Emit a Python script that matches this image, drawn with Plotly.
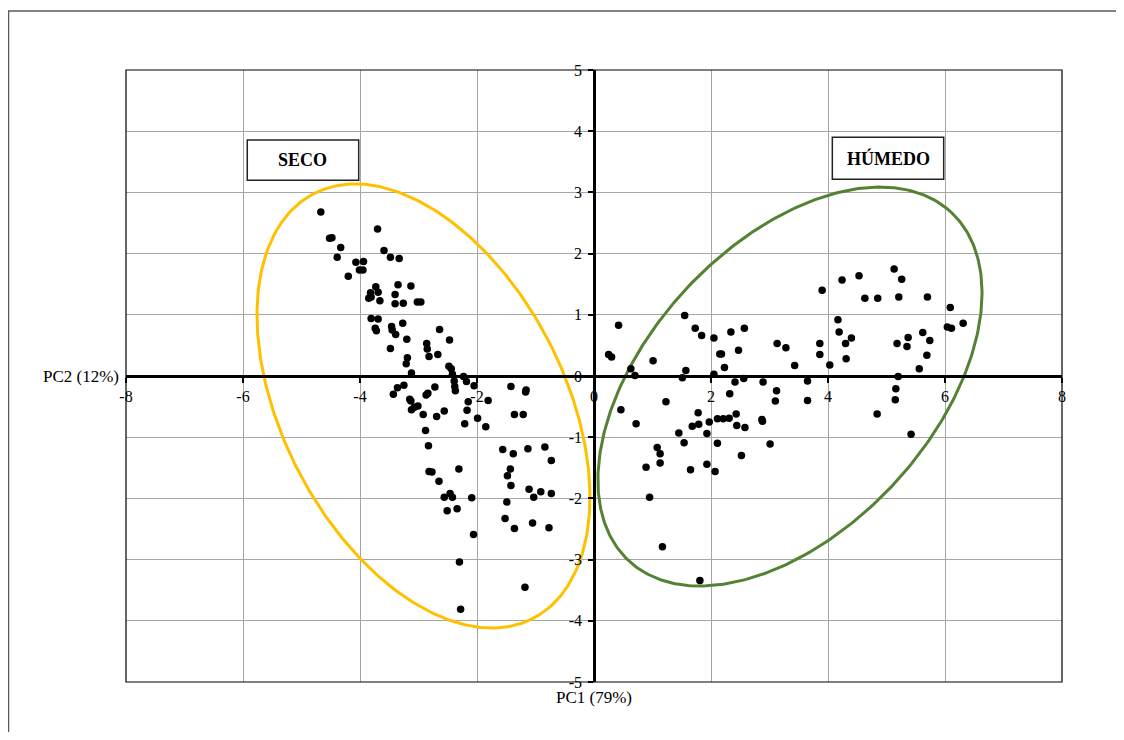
import numpy as np
import plotly.graph_objects as go

# ---------------- data ----------------
seco_x = [-4.67, -4.52, -4.48, -4.33, -4.39, -3.70, -4.07, -3.94, -4.01, -3.95,
          -4.20, -3.59, -3.48, -3.33, -3.35, -3.13, -3.73, -3.82, -3.69, -3.85,
          -3.81, -3.66, -3.40, -3.40, -3.26, -3.02, -2.96, -3.81, -3.69, -3.74,
          -3.72, -3.46, -3.45, -3.39, -3.27, -3.20, -3.48, -2.86, -2.85, -2.82,
          -2.67, -2.64, -2.47, -3.19, -3.21, -3.12, -2.48, -2.44, -2.42, -2.39,
          -2.38, -2.37, -2.23, -2.18, -2.05, -1.81, -2.15, -2.17, -2.72, -2.84,
          -2.87, -2.56, -2.69, -1.99, -2.21, -1.85, -3.43, -3.36, -3.25, -3.15,
          -3.13, -3.12, -3.07, -3.01, -2.92, -2.88, -2.83, -2.82, -2.77, -2.65,
          -2.31, -2.56, -2.46, -2.42, -2.51, -2.34, -2.09, -2.06, -2.30, -2.28,
          -1.42, -1.17, -1.16, -1.36, -1.21, -1.56, -1.38, -1.13, -0.84, -0.73,
          -1.43, -1.48, -1.42, -1.11, -1.03, -0.91, -0.73, -1.49, -1.52, -1.36,
          -1.05, -0.77, -1.18]
seco_y = [2.68, 2.25, 2.26, 2.10, 1.94, 2.40, 1.86, 1.87, 1.73, 1.73,
          1.63, 2.05, 1.94, 1.92, 1.49, 1.47, 1.46, 1.36, 1.37, 1.27,
          1.29, 1.23, 1.33, 1.18, 1.19, 1.21, 1.21, 0.94, 0.93, 0.78,
          0.74, 0.81, 0.75, 0.68, 0.86, 0.60, 0.45, 0.53, 0.44, 0.32,
          0.35, 0.76, 0.59, 0.30, 0.20, 0.05, 0.16, 0.12, 0.03, -0.08,
          -0.17, -0.24, -0.01, -0.09, -0.16, -0.40, -0.42, -0.56, -0.18, -0.28,
          -0.31, -0.57, -0.66, -0.69, -0.78, -0.83, -0.30, -0.19, -0.15, -0.38,
          -0.41, -0.55, -0.51, -0.49, -0.63, -0.89, -1.14, -1.56, -1.57, -1.72,
          -1.52, -1.98, -1.92, -1.98, -2.20, -2.17, -1.99, -2.59, -3.04, -3.81,
          -0.17, -0.26, -0.23, -0.63, -0.63, -1.20, -1.27, -1.19, -1.16, -1.38,
          -1.52, -1.63, -1.79, -1.85, -1.98, -1.89, -1.92, -2.06, -2.33, -2.49,
          -2.40, -2.48, -3.45]

humedo_x = [0.42, 0.25, 0.30, 0.63, 0.70, 1.01, 0.46, 0.72, 1.23, 1.55,
            1.57, 1.51, 1.73, 1.84, 2.05, 2.05, 2.15, 2.18, 2.23, 2.34,
            2.57, 2.47, 2.41, 2.56, 2.32, 1.78, 1.68, 1.79, 1.97, 2.11,
            2.21, 2.31, 2.43, 2.44, 2.58, 1.45, 1.93, 1.54, 2.11, 1.08,
            1.13, 1.13, 0.89, 1.65, 1.93, 2.07, 2.52, 0.95, 1.17, 1.81,
            2.89, 2.87, 2.88, 3.01, 3.10, 3.12, 3.13, 3.28, 3.43, 3.65,
            3.65, 3.86, 3.86, 3.90, 4.03, 4.17, 4.19, 4.30, 4.40, 4.31,
            4.24, 4.53, 4.63, 4.85, 4.84, 5.13, 5.26, 5.21, 5.18, 5.20,
            5.16, 5.15, 5.37, 5.35, 5.42, 5.56, 5.62, 5.74, 5.69, 5.70,
            6.09, 6.04, 6.11, 6.31]
humedo_y = [0.83, 0.35, 0.31, 0.12, 0.01, 0.25, -0.55, -0.78, -0.42, 0.99,
            0.09, -0.03, 0.78, 0.66, 0.62, 0.03, 0.36, 0.36, 0.14, 0.72,
            0.78, 0.42, -0.10, -0.04, -0.29, -0.60, -0.82, -0.79, -0.75, -0.70,
            -0.70, -0.69, -0.62, -0.81, -0.84, -0.93, -0.94, -1.09, -1.10, -1.17,
            -1.27, -1.42, -1.49, -1.53, -1.44, -1.56, -1.30, -1.98, -2.79, -3.34,
            -0.10, -0.71, -0.74, -1.11, -0.41, -0.24, 0.53, 0.46, 0.17, -0.08,
            -0.40, 0.53, 0.35, 1.40, 0.18, 0.92, 0.72, 0.53, 0.62, 0.28,
            1.57, 1.64, 1.27, 1.27, -0.62, 1.75, 1.58, 1.29, 0.53, -0.01,
            -0.21, -0.39, 0.63, 0.48, -0.95, 0.12, 0.71, 0.58, 0.34, 1.29,
            1.12, 0.80, 0.78, 0.86]

x_ticks = [-8, -6, -4, -2, 0, 2, 4, 6, 8]
y_ticks = [-5, -4, -3, -2, -1, 0, 1, 2, 3, 4, 5]
x_title = "PC1 (79%)"
y_title = "PC2 (12%)"
group_labels = ["SECO", "HÚMEDO"]

# ---------------- layout constants ----------------
# the page places the figure 8 px in from the top-left corner
W, H = 1108, 724
ML, MR, MT, MB = 118, 54, 62, 50
XR, YR = (-8, 8), (-5, 5)
PW, PH = W - ML - MR, H - MT - MB
sx = PW / (XR[1] - XR[0])   # px per x unit
sy = PH / (YR[1] - YR[0])   # px per y unit
FONT = "Liberation Serif"


def ellipse(cx, cy, a_px, b_px, ang_deg, n=400):
    t = np.linspace(0, 2 * np.pi, n)
    th = np.radians(ang_deg)
    dxp = a_px * np.cos(th) * np.cos(t) - b_px * np.sin(th) * np.sin(t)
    dyp = a_px * np.sin(th) * np.cos(t) + b_px * np.cos(th) * np.sin(t)
    return cx + dxp / sx, cy - dyp / sy


fig = go.Figure()

ex, ey = ellipse(-2.915, -0.49, 239, 141, 62.7)
fig.add_trace(go.Scatter(x=ex, y=ey, mode="lines", line=dict(color="#FFC000", width=3),
                         hoverinfo="skip", showlegend=False))
ex, ey = ellipse(3.35, -0.172, 237.4, 142.5, -47.3)
fig.add_trace(go.Scatter(x=ex, y=ey, mode="lines", line=dict(color="#548235", width=3),
                         hoverinfo="skip", showlegend=False))

fig.add_trace(go.Scatter(x=seco_x, y=seco_y, mode="markers",
                         marker=dict(color="black", size=7.5), showlegend=False, name="SECO"))
fig.add_trace(go.Scatter(x=humedo_x, y=humedo_y, mode="markers",
                         marker=dict(color="black", size=7.5), showlegend=False, name="HÚMEDO"))

axis_common = dict(showgrid=True, gridcolor="#A6A6A6", gridwidth=1, zeroline=False,
                   showline=True, linecolor="black", linewidth=2.5,
                   ticks="outside", ticklen=5, tickwidth=2, tickcolor="black",
                   tickfont=dict(family=FONT, size=16, color="black"),
                   anchor="free", position=0.5, fixedrange=True)

fig.update_layout(
    width=W, height=H,
    margin=dict(l=ML, r=MR, t=MT, b=MB),
    paper_bgcolor="white", plot_bgcolor="white",
    xaxis=dict(range=list(XR), tickvals=x_ticks, ticktext=[str(v) for v in x_ticks], **axis_common),
    yaxis=dict(range=list(YR), tickvals=y_ticks, ticktext=[str(v) for v in y_ticks],
               ticklabelstandoff=3, **axis_common),
    font=dict(family=FONT, color="black"),
)

# plot-area frame and outer chart frame
fig.add_shape(type="rect", xref="paper", yref="paper", x0=0, y0=0, x1=1, y1=1,
              line=dict(color="black", width=1.2), layer="above")
fig.add_shape(type="rect", xref="paper", yref="paper",
              x0=(0.5 - ML) / PW, y0=-0.3, x1=1.3, y1=(MT + PH - 3) / PH,
              line=dict(color="#595959", width=1.5), layer="above")

# group label boxes
boxes = [(-5.927, 3.198, -4.022, 3.856), (4.074, 3.214, 5.978, 3.900)]
for (x0, y0, x1, y1), lab in zip(boxes, group_labels):
    fig.add_shape(type="rect", x0=x0, y0=y0, x1=x1, y1=y1, xref="x", yref="y",
                  line=dict(color="#222222", width=1.5), fillcolor="white", layer="above")
    fig.add_annotation(x=(x0 + x1) / 2, y=(y0 + y1) / 2, text=f"<b>{lab}</b>", showarrow=False,
                       font=dict(family=FONT, size=18, color="black"))

# axis titles
fig.add_annotation(xref="paper", yref="y", x=0, y=0, text=y_title, showarrow=False,
                   xanchor="right", yanchor="middle", xshift=-5,
                   font=dict(family=FONT, size=17, color="black"))
fig.add_annotation(xref="x", yref="paper", x=0, y=0, text=x_title, showarrow=False,
                   xanchor="center", yanchor="top", yshift=-4,
                   font=dict(family=FONT, size=17, color="black"))

fig.write_html("out.html")
